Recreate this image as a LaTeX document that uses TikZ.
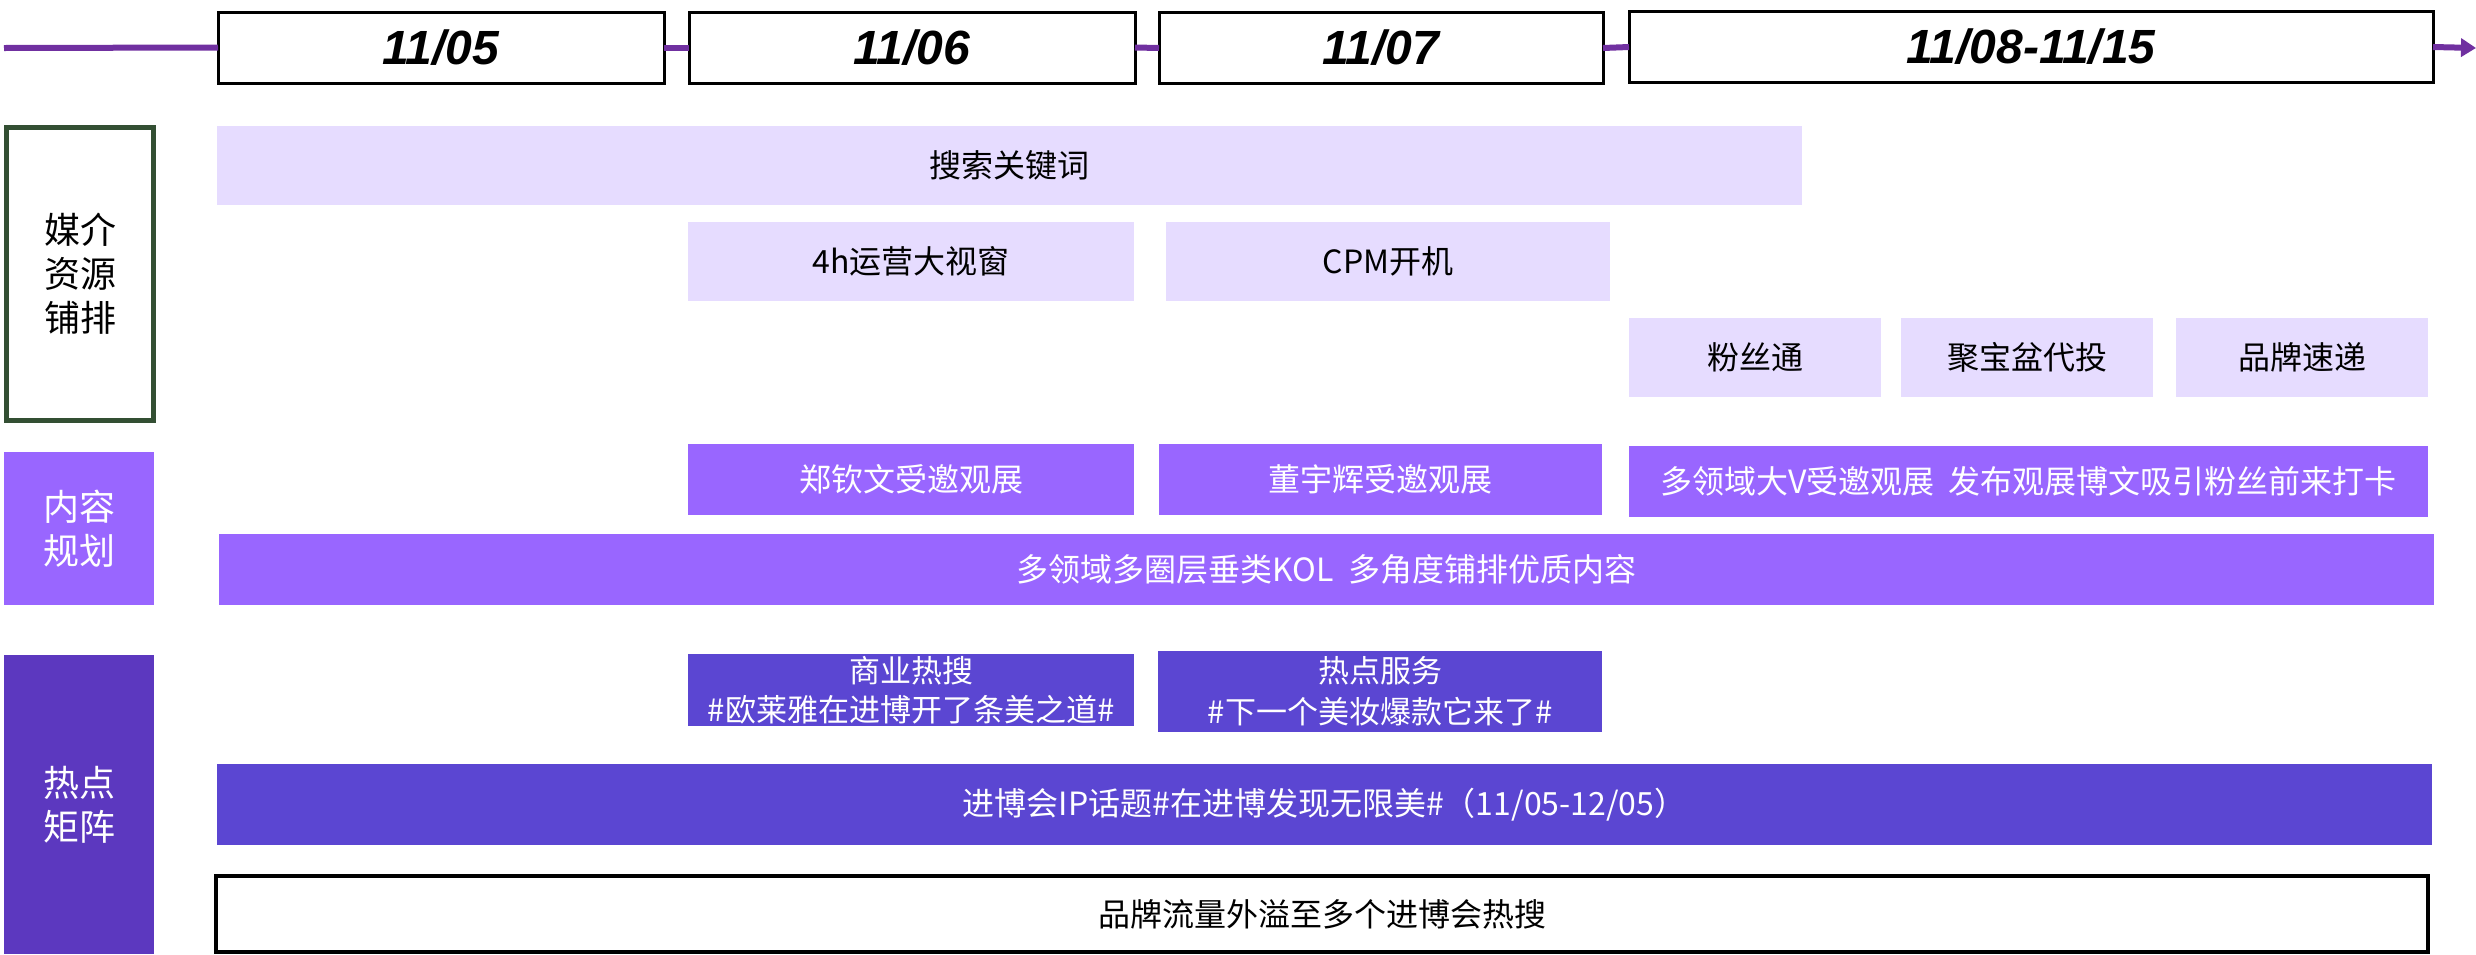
\documentclass[tikz,border=0pt]{standalone}
\usepackage{fontspec}
\setmainfont{Noto Sans CJK SC}
\newfontfamily\datefont{Liberation Sans}
\usetikzlibrary{arrows.meta}
\definecolor{lav}{HTML}{E6DCFF}
\definecolor{mpur}{HTML}{9966FF}
\definecolor{dpur}{HTML}{5B46D2}
\definecolor{dpurl}{HTML}{5C38BF}
\definecolor{tlcol}{HTML}{7030A0}
\definecolor{gborder}{HTML}{334F33}
\begin{document}
\begin{tikzpicture}[x=1pt,y=-1pt,
  every node/.style={inner sep=0pt, outer sep=0pt, align=center},
  datebox/.style={draw=black, line width=3pt, fill=white, minimum height=71pt,
    font=\datefont\bfseries\itshape\fontsize{48}{52}\selectfont},
  lavbox/.style={fill=lav, text=black, font=\fontsize{32}{38}\selectfont},
  midbox/.style={fill=mpur, text=white, font=\fontsize{32}{38}\selectfont},
  darkbox/.style={fill=dpur, text=white, font=\fontsize{31}{38}\selectfont},
  sidelabel/.style={font=\fontsize{36}{44}\selectfont},
  tline/.style={draw=tlcol, line width=6pt}
]
\useasboundingbox (0,0) rectangle (2476,954);

% timeline
\coordinate (tlstart) at (4,48);
\coordinate (tlend) at (2476,48);
\node[datebox, minimum width=446pt] (d1) at (441,47.5) {11/05};
\node[datebox, minimum width=446pt] (d2) at (912,47.5) {11/06};
\node[datebox, minimum width=444pt] (d3) at (1381,48) {11/07};
\node[datebox, minimum width=804pt] (d4) at (2031,47) {11/08-11/15};
\draw[tline] (tlstart) -- (d1.west);
\draw[tline] (d1.east) -- (d2.west);
\draw[tline] (d2.east) -- (d3.west);
\draw[tline] (d3.east) -- (d4.west);
\draw[tline, -{Triangle[length=15pt,width=18pt]}] (d4.east) -- (tlend);

% left labels
\node[sidelabel, draw=gborder, line width=5pt, fill=white, minimum width=147pt, minimum height=293pt] (media) at (80,274) {媒介\\资源\\铺排};
\node[sidelabel, fill=mpur, text=white, minimum width=150pt, minimum height=153pt] (content) at (79,528.5) {内容\\规划};
\node[sidelabel, fill=dpurl, text=white, minimum width=150pt, minimum height=299pt] (hot) at (79,804.5) {热点\\矩阵};

% media rows
\node[lavbox, minimum width=1585pt, minimum height=79pt] (kw) at (1009.5,165.5) {搜索关键词};
\node[lavbox, minimum width=446pt, minimum height=79pt] (win) at (911,261.5) {4h运营大视窗};
\node[lavbox, minimum width=444pt, minimum height=79pt] (cpm) at (1388,261.5) {CPM开机};
\node[lavbox, minimum width=252pt, minimum height=79pt] (fst) at (1755,357.5) {粉丝通};
\node[lavbox, minimum width=252pt, minimum height=79pt] (jbp) at (2027,357.5) {聚宝盆代投};
\node[lavbox, minimum width=252pt, minimum height=79pt] (ppsd) at (2302,357.5) {品牌速递};

% content rows
\node[midbox, minimum width=446pt, minimum height=71pt] (zqw) at (911,479.5) {郑钦文受邀观展};
\node[midbox, minimum width=443pt, minimum height=71pt] (dyh) at (1380.5,479.5) {董宇辉受邀观展};
\node[midbox, minimum width=799pt, minimum height=71pt] (bigv) at (2028.5,481.5) {多领域大V受邀观展\ \ 发布观展博文吸引粉丝前来打卡};
\node[midbox, minimum width=2215pt, minimum height=71pt] (kol) at (1326.5,569.5) {多领域多圈层垂类KOL\ \ 多角度铺排优质内容};

% hot rows
\node[darkbox, minimum width=446pt, minimum height=72pt] (syrs) at (911,690) {商业热搜\\[1pt]\#欧莱雅在进博开了条美之道\#};
\node[darkbox, minimum width=444pt, minimum height=81pt] (rdfw) at (1380,691.5) {热点服务\\[3pt]\#下一个美妆爆款它来了\#};
\node[darkbox, font=\fontsize{32}{38}\selectfont, minimum width=2215pt, minimum height=81pt] (ip) at (1324.5,804.5) {进博会IP话题\#在进博发现无限美\#（11/05-12/05）};
\node[draw=black, line width=4pt, fill=white, font=\fontsize{32}{38}\selectfont, minimum width=2212pt, minimum height=76pt] (spill) at (1322,914) {品牌流量外溢至多个进博会热搜};
\end{tikzpicture}
\end{document}
